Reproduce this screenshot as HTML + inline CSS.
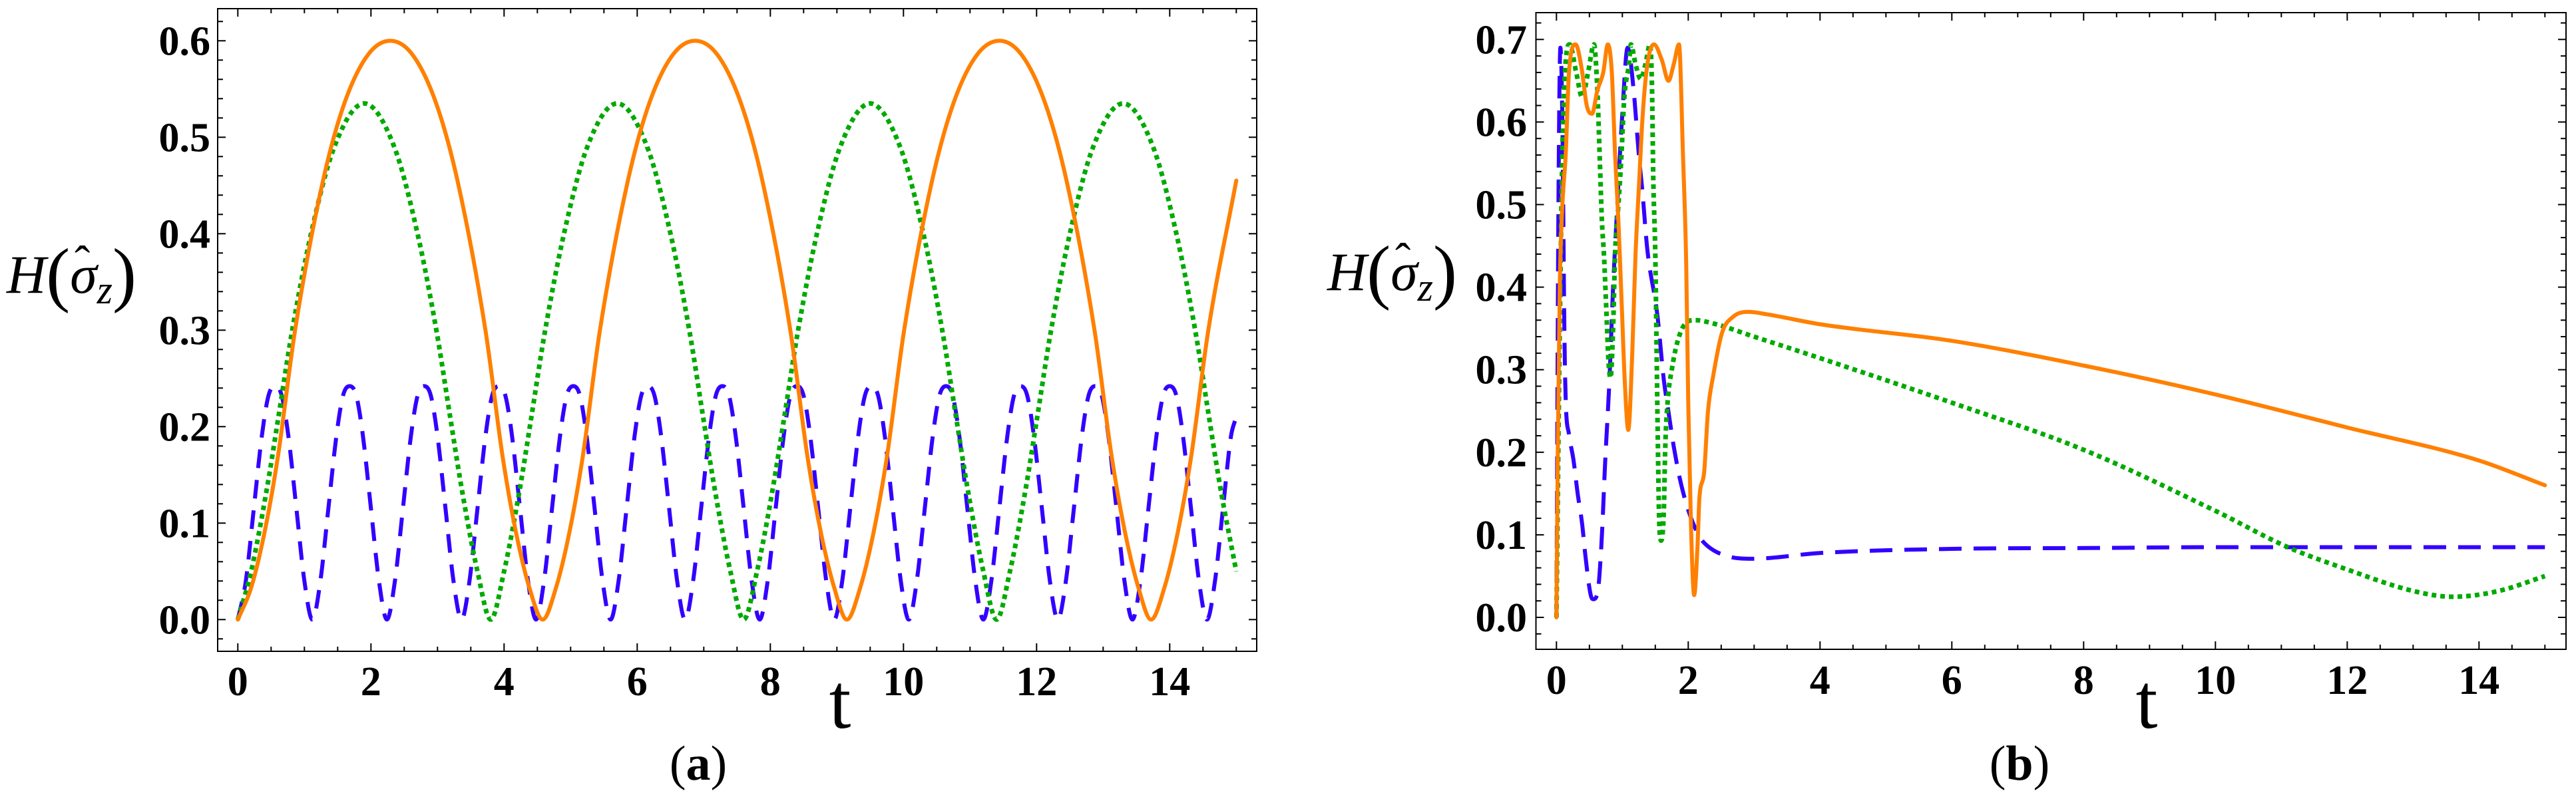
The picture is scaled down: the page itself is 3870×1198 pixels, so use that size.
<!DOCTYPE html>
<html><head><meta charset="utf-8"><style>
html,body{margin:0;padding:0;background:#fff;}
svg{display:block;}
.tk{font-family:"Liberation Serif",serif;font-weight:bold;font-size:62px;fill:#000;}
.lab{font-family:"Liberation Serif",serif;fill:#000;}
</style></head><body>
<svg id="chart" width="3870" height="1198" viewBox="0 0 3870 1198" xmlns="http://www.w3.org/2000/svg">
<rect x="0" y="0" width="3870" height="1198" fill="#fff"/>
<g id="pa"></g>
<g id="pb"></g>
<text class="lab" x="10" y="440" font-size="82"><tspan font-style="italic">H</tspan><tspan font-size="108" dy="8">(</tspan><tspan font-style="italic" dy="-8">σ</tspan><tspan font-style="italic" font-size="60" dy="16">z</tspan><tspan font-size="108" dy="-8">)</tspan></text>
<text class="lab" x="112" y="418" font-size="70">ˆ</text>
<text class="lab" x="1994" y="436" font-size="82"><tspan font-style="italic">H</tspan><tspan font-size="108" dy="8">(</tspan><tspan font-style="italic" dy="-8">σ</tspan><tspan font-style="italic" font-size="60" dy="16">z</tspan><tspan font-size="108" dy="-8">)</tspan></text>
<text class="lab" x="2096" y="414" font-size="70">ˆ</text>
<text class="lab" x="1262" y="1094" font-size="118" text-anchor="middle">t</text>
<text class="lab" x="3225" y="1094" font-size="118" text-anchor="middle">t</text>
<text class="lab" x="1049" y="1172" font-size="74" text-anchor="middle">(<tspan font-weight="bold">a</tspan>)</text>
<text class="lab" x="3034" y="1172" font-size="74" text-anchor="middle">(<tspan font-weight="bold">b</tspan>)</text>
</svg>
<script>
// ---------- Panel (a) data ----------
const orangeA_t=[0,.2,.4,.6,.86,1.28,1.6,1.95,2.29,2.63,2.98,3.3,3.72,3.98,4.18,4.38,
4.58,4.78,4.98,5.18,5.44,5.86,6.18,6.53,6.87,7.21,7.56,7.88,8.3,8.56,8.76,8.96,
9.15,9.35,9.55,9.75,10.01,10.43,10.75,11.1,11.44,11.78,12.13,12.45,12.87,13.13,13.33,13.53,
13.72,13.92,14.12,14.32,14.58,15];
const orangeA_v=[0,.033,.09,.168,.3,.455,.535,.585,.6,.585,.535,.455,.3,.168,.09,.033,
0,.033,.09,.168,.3,.455,.535,.585,.6,.585,.535,.455,.3,.168,.09,.033,
0,.033,.09,.168,.3,.455,.535,.585,.6,.585,.535,.455,.3,.168,.09,.033,
0,.033,.09,.168,.3,.455];
const greenA_t=[0,.2,.44,.61,.81,1.1,1.45,1.9,2.35,2.7,2.99,3.19,3.36,3.6,
3.8,4,4.24,4.41,4.61,4.9,5.25,5.7,6.15,6.5,6.79,6.99,7.16,7.4,
7.6,7.8,8.04,8.21,8.41,8.7,9.05,9.5,9.95,10.3,10.59,10.79,10.96,11.2,
11.4,11.6,11.84,12.01,12.21,12.5,12.85,13.3,13.75,14.1,14.39,14.59,14.76,15];
const greenA_v=[0,.05,.137,.21,.297,.4,.49,.535,.49,.4,.297,.21,.137,.05,
0,.05,.137,.21,.297,.4,.49,.535,.49,.4,.297,.21,.137,.05,
0,.05,.137,.21,.297,.4,.49,.535,.49,.4,.297,.21,.137,.05,
0,.05,.137,.21,.297,.4,.49,.535,.49,.4,.297,.21,.137,.05];
const blueA_t=[0,.12,.24,.36,.46,.56,.66,.76,.88,1.0,
1.12,1.24,1.36,1.48,1.58,1.68,1.78,1.88,2.0,2.12,
2.24,2.36,2.48,2.6,2.7,2.8,2.9,3.0,3.12,3.24,
3.36,3.48,3.6,3.72,3.82,3.92,4.02,4.12,4.24,4.36,
4.48,4.6,4.72,4.84,4.94,5.04,5.14,5.24,5.36,5.48,
5.6,5.72,5.84,5.96,6.06,6.16,6.26,6.36,6.48,6.6,
6.72,6.84,6.96,7.08,7.18,7.28,7.38,7.48,7.6,7.72,
7.84,7.96,8.08,8.2,8.3,8.4,8.5,8.6,8.72,8.84,
8.96,9.08,9.2,9.32,9.42,9.52,9.62,9.72,9.84,9.96,
10.08,10.2,10.32,10.44,10.54,10.64,10.74,10.84,10.96,11.08,
11.2,11.32,11.44,11.56,11.66,11.76,11.86,11.96,12.08,12.2,
12.32,12.44,12.56,12.68,12.78,12.88,12.98,13.08,13.2,13.32,
13.44,13.56,13.68,13.8,13.9,14.0,14.1,14.2,14.32,14.44,
14.56,14.68,14.8,14.92,15];
const blueA_v=[0,.04,.115,.19,.232,.242,.232,.19,.115,.04,
0,.04,.115,.19,.232,.242,.232,.19,.115,.04,
0,.04,.115,.19,.232,.242,.232,.19,.115,.04,
0,.04,.115,.19,.232,.242,.232,.19,.115,.04,
0,.04,.115,.19,.232,.242,.232,.19,.115,.04,
0,.04,.115,.19,.232,.242,.232,.19,.115,.04,
0,.04,.115,.19,.232,.242,.232,.19,.115,.04,
0,.04,.115,.19,.232,.242,.232,.19,.115,.04,
0,.04,.115,.19,.232,.242,.232,.19,.115,.04,
0,.04,.115,.19,.232,.242,.232,.19,.115,.04,
0,.04,.115,.19,.232,.242,.232,.19,.115,.04,
0,.04,.115,.19,.232,.242,.232,.19,.115,.04,
0,.04,.115,.19,.232,.242,.232,.19,.115,.04,
0,.04,.115,.19,.21];
const yTicksA=["0.0","0.1","0.2","0.3","0.4","0.5","0.6"];
// ---------- Panel (b) data ----------
const orangeB_t=[0,.02,.05,.09,.14,.19,.29,.38,.46,.54,.62,.71,.78,.84,.89,.94,.99,1.04,1.09,1.15,1.2,1.25,1.31,1.38,1.48,1.6,1.7,1.78,1.86,1.92,1.97,2.0,2.04,2.09,2.14,2.17,2.24,2.3,2.38,2.51,2.68,2.91,3.2,4,6,8,10,12,14,15];
const orangeB_v=[0,.2,.4,.5,.56,.66,.694,.666,.62,.61,.638,.66,.694,.66,.56,.48,.38,.28,.227,.32,.44,.52,.61,.67,.694,.675,.65,.67,.694,.56,.425,.26,.115,.027,.086,.145,.175,.25,.293,.344,.364,.37,.367,.355,.335,.305,.27,.23,.19,.16];
const greenB_t=[0,.05,.1,.2,.3,.39,.48,.57,.62,.66,.69,.72,.76,.79,.82,.86,.89,.94,.98,1.03,1.1,1.13,1.2,1.28,1.35,1.42,1.45,1.47,1.5,1.52,1.54,1.56,1.59,1.63,1.65,1.69,1.75,1.83,1.93,2.1,2.38,3.0,4,6,8,10,11.1,12,13,13.6,14.3,15];
const greenB_v=[0,.35,.6,.694,.66,.63,.66,.694,.64,.55,.48,.44,.367,.31,.29,.35,.44,.5,.55,.63,.67,.694,.67,.652,.67,.694,.64,.53,.44,.323,.204,.116,.093,.13,.204,.264,.3,.332,.353,.36,.356,.34,.314,.26,.203,.129,.085,.058,.032,.025,.032,.05];
const blueB_t=[0,.03,.06,.09,.12,.14,.19,.26,.32,.39,.44,.52,.56,.63,.67,.7,.74,.77,.8,.86,.91,1.0,1.08,1.17,1.25,1.3,1.38,1.53,1.63,1.7,1.78,1.87,2.0,2.17,2.3,2.6,2.97,4,6,8,10,12,15];
const blueB_v=[0,.5,.69,.6,.35,.264,.222,.19,.151,.113,.074,.027,.022,.033,.071,.116,.19,.234,.28,.4,.48,.61,.69,.64,.56,.52,.445,.367,.287,.249,.207,.169,.13,.098,.086,.074,.071,.078,.083,.084,.085,.085,.085];
const yTicksB=["0.0","0.1","0.2","0.3","0.4","0.5","0.6","0.7"];
const xTicks=["0","2","4","6","8","10","12","14"];

const NS="http://www.w3.org/2000/svg";
function mk(tag,attrs,parent){const e=document.createElementNS(NS,tag);for(const k in attrs)e.setAttribute(k,attrs[k]);parent.appendChild(e);return e;}

function monoPath(ts,vs,X,Y){
  const n=ts.length,xs=ts.map(X),ys=vs.map(Y);
  const d=[],m=new Array(n);
  for(let i=0;i<n-1;i++)d.push((ys[i+1]-ys[i])/(xs[i+1]-xs[i]));
  m[0]=d[0];m[n-1]=d[n-2];
  for(let i=1;i<n-1;i++){ if(d[i-1]*d[i]<=0)m[i]=0; else m[i]=(d[i-1]+d[i])/2; }
  for(let i=0;i<n-1;i++){ if(d[i]===0){m[i]=0;m[i+1]=0;continue;}
    const a=m[i]/d[i],b=m[i+1]/d[i],s=a*a+b*b; if(s>9){const t=3/Math.sqrt(s);m[i]=t*a*d[i];m[i+1]=t*b*d[i];}}
  let p="M"+xs[0].toFixed(1)+","+ys[0].toFixed(1);
  for(let i=0;i<n-1;i++){const h=xs[i+1]-xs[i];
    p+="C"+(xs[i]+h/3).toFixed(1)+","+(ys[i]+m[i]*h/3).toFixed(1)+" "+(xs[i+1]-h/3).toFixed(1)+","+(ys[i+1]-m[i+1]*h/3).toFixed(1)+" "+xs[i+1].toFixed(1)+","+ys[i+1].toFixed(1);}
  return p;
}

function panel(g,cfg){
  const {L,R,T,B,X,Y,yLabels,yMax,labelRight,lx}=cfg;
  for(let k=0;k<=30;k++){const t=k*0.5,x=X(t),len=(k%4===0)?12:7;
    const tb=mk('line',{x1:x,y1:B,x2:x,y2:B-len,stroke:'#000','stroke-width':2},g);
    
    
    const tt=mk('line',{x1:x,y1:T,x2:x,y2:T+len,stroke:'#000','stroke-width':2},g);
    
    }
  for(let k=-1;k<=Math.round(yMax/0.02);k++){const v=k*0.02,y=Y(v);if(y<T+2||y>B-2)continue;const len=(k%5===0)?12:8;
    const tl=mk('line',{x1:L,y1:y,x2:L+len,y2:y,stroke:'#000','stroke-width':2},g);
    
    
    const tr=mk('line',{x1:R,y1:y,x2:R-len,y2:y,stroke:'#000','stroke-width':2},g);
    
    }
  yLabels.forEach((s,i)=>{const tx=mk('text',{x:labelRight,y:Y(i*0.1)+21,'text-anchor':'end',class:'tk'},g);tx.textContent=s;
    
    });
  xTicks.forEach((s,i)=>{const tx=mk('text',{x:X(i*2),y:lx,'text-anchor':'middle',class:'tk'},g);tx.textContent=s;
    
    });
  cfg.series.forEach(s=>{const p=mk('path',{d:monoPath(s.t,s.v,X,Y),fill:'none',stroke:s.c,'stroke-width':s.w,'stroke-dasharray':s.dash||'none','stroke-linejoin':'round','stroke-linecap':s.dash?'butt':'round'},g);
    
    });
  const fr=mk('rect',{x:L,y:T,width:R-L,height:B-T,fill:'none',stroke:'#000','stroke-width':2},g);
  
  
}

const XA=t=>357.3+100*t, YA=v=>931.3-1450*v;
panel(document.getElementById('pa'),{L:327,R:1888,T:13,B:979,X:XA,Y:YA,yLabels:yTicksA,yMax:0.64,labelRight:316,lx:1045,
 series:[
  {name:'series-blue-dashed-a',t:blueA_t,v:blueA_v,c:'#3300ff',w:6,dash:'28 18'},
  {name:'series-green-dotted-a',t:greenA_t,v:greenA_v,c:'#00aa00',w:7,dash:'7 6'},
  {name:'series-orange-solid-a',t:orangeA_t,v:orangeA_v,c:'#ff8000',w:6}
 ]});
const XB=t=>2338.3+99*t, YB=v=>928-1241*v;
panel(document.getElementById('pb'),{L:2307.5,R:3855,T:19,B:976,X:XB,Y:YB,yLabels:yTicksB,yMax:0.74,labelRight:2294,lx:1043,
 series:[
  {name:'series-blue-dashed-b',t:blueB_t,v:blueB_v,c:'#3300ff',w:6,dash:'34 18'},
  {name:'series-green-dotted-b',t:greenB_t,v:greenB_v,c:'#00aa00',w:7,dash:'7 6'},
  {name:'series-orange-solid-b',t:orangeB_t,v:orangeB_v,c:'#ff8000',w:6}
 ]});
</script>
</body></html>
